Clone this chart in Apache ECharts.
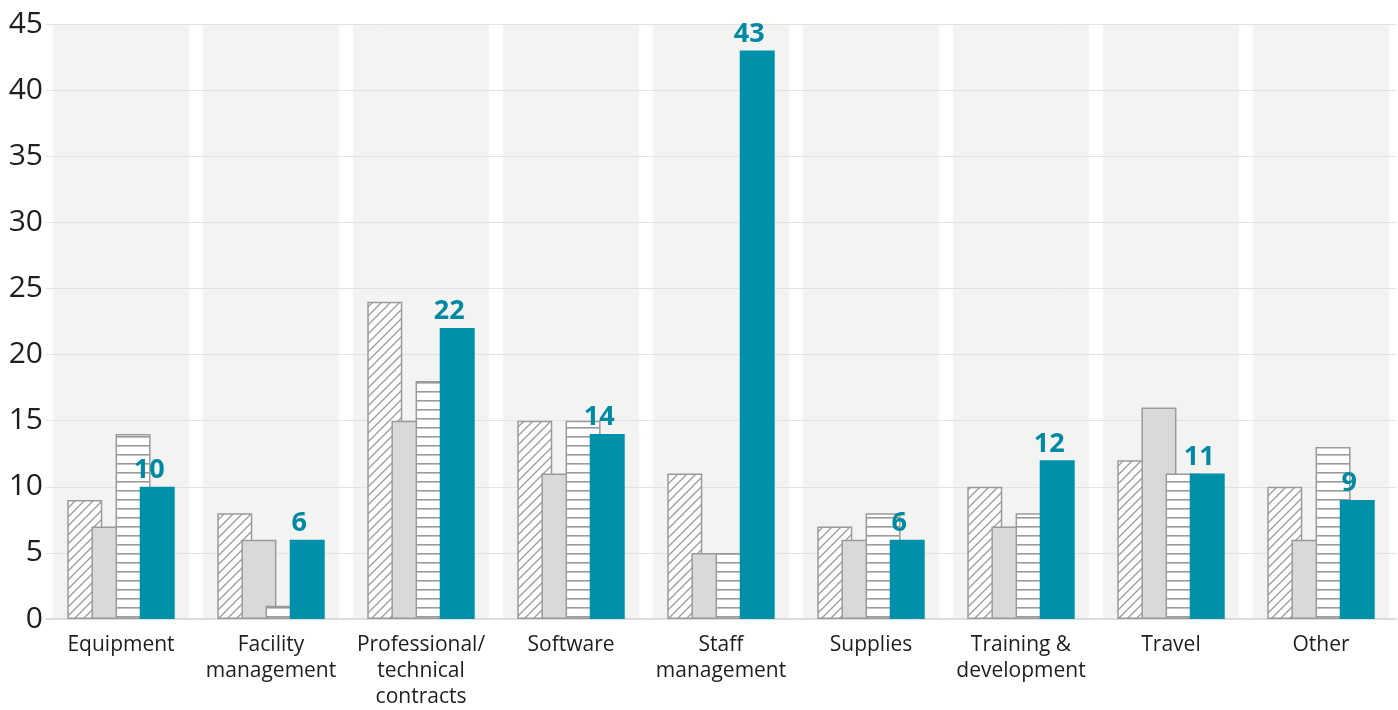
<!DOCTYPE html>
<html>
<head>
<meta charset="utf-8">
<script src="https://cdn.jsdelivr.net/npm/echarts@6/dist/echarts.min.js"></script>
<style>html,body{margin:0;padding:0;background:#fff;}#chart{width:1398px;height:710px;}</style>
</head>
<body>
<div id="chart"></div>
<script>
var categories = ['Equipment', 'Facility\nmanagement', 'Professional/\ntechnical\ncontracts', 'Software', 'Staff\nmanagement', 'Supplies', 'Training &\ndevelopment', 'Travel', 'Other'];
var seriesHatched = [9, 8, 24, 15, 11, 7, 10, 12, 10];
var seriesGray = [7, 6, 15, 11, 5, 6, 7, 16, 6];
var seriesStriped = [14, 1, 18, 15, 5, 8, 8, 11, 13];
var seriesTeal = [10, 6, 22, 14, 43, 6, 12, 11, 9];
var yTicks = [0, 5, 10, 15, 20, 25, 30, 35, 40, 45];

function hatchPattern() {
  var c = document.createElement('canvas');
  var s = 9;
  c.width = s; c.height = s;
  var g = c.getContext('2d');
  g.fillStyle = '#ffffff'; g.fillRect(0, 0, s, s);
  g.strokeStyle = '#9a9a9a'; g.lineWidth = 1.3;
  g.beginPath();
  g.moveTo(-1, s + 1); g.lineTo(s + 1, -1);
  g.moveTo(-1, 1); g.lineTo(1, -1);
  g.moveTo(s - 1, s + 1); g.lineTo(s + 1, s - 1);
  g.stroke();
  return c;
}
function stripePattern() {
  var c = document.createElement('canvas');
  c.width = 8; c.height = 9;
  var g = c.getContext('2d');
  g.fillStyle = '#ffffff'; g.fillRect(0, 0, 8, 9);
  g.fillStyle = '#9a9a9a'; g.fillRect(0, 4, 8, 1.6);
  return c;
}

var chart = echarts.init(document.getElementById('chart'), null, {renderer: 'canvas'});
var FONT = 'Open Sans';
var panel = categories.map(function () { return yTicks[yTicks.length - 1]; });

var option = {
  animation: false,
  backgroundColor: '#ffffff',
  grid: {left: 46, right: 2, top: 24, bottom: 88, containLabel: false},
  xAxis: [{
    type: 'category',
    data: categories,
    axisLine: {show: true, lineStyle: {color: '#dcdcdc', width: 2}},
    axisTick: {show: false},
    axisLabel: {color: '#1e1e1e', fontFamily: FONT, fontSize: 21, lineHeight: 26, margin: 13, interval: 0}
  }, {
    type: 'category',
    data: categories,
    show: false
  }],
  yAxis: {
    type: 'value',
    min: 0, max: 45, interval: 5,
    axisLine: {show: false},
    axisTick: {show: false},
    axisLabel: {color: '#1e1e1e', fontFamily: FONT, fontSize: 30, margin: 3},
    splitLine: {show: true, lineStyle: {color: '#e2e2e2', width: 1}}
  },
  series: [{
    type: 'bar',
    xAxisIndex: 1,
    data: panel,
    barWidth: 136,
    z: -1,
    silent: true,
    itemStyle: {color: '#f3f3f1'}
  }, {
    type: 'bar',
    data: seriesHatched,
    barWidth: 35,
    barGap: '-31%',
    itemStyle: {color: {image: hatchPattern(), repeat: 'repeat'}, borderColor: '#9a9a9a', borderWidth: 1.5}
  }, {
    type: 'bar',
    data: seriesGray,
    barWidth: 35,
    barGap: '-31%',
    itemStyle: {color: '#d9d9d9', borderColor: '#9a9a9a', borderWidth: 1.5}
  }, {
    type: 'bar',
    data: seriesStriped,
    barWidth: 35,
    barGap: '-31%',
    itemStyle: {color: {image: stripePattern(), repeat: 'repeat'}, borderColor: '#9a9a9a', borderWidth: 1.5}
  }, {
    type: 'bar',
    data: seriesTeal,
    barWidth: 35,
    barGap: '-31%',
    itemStyle: {color: '#0090aa'},
    label: {show: true, position: 'top', distance: 3, offset: [-8, 0], color: '#0089a3', fontFamily: FONT, fontWeight: 'bold', fontSize: 27}
  }]
};
chart.setOption(option);
</script>
</body>
</html>
